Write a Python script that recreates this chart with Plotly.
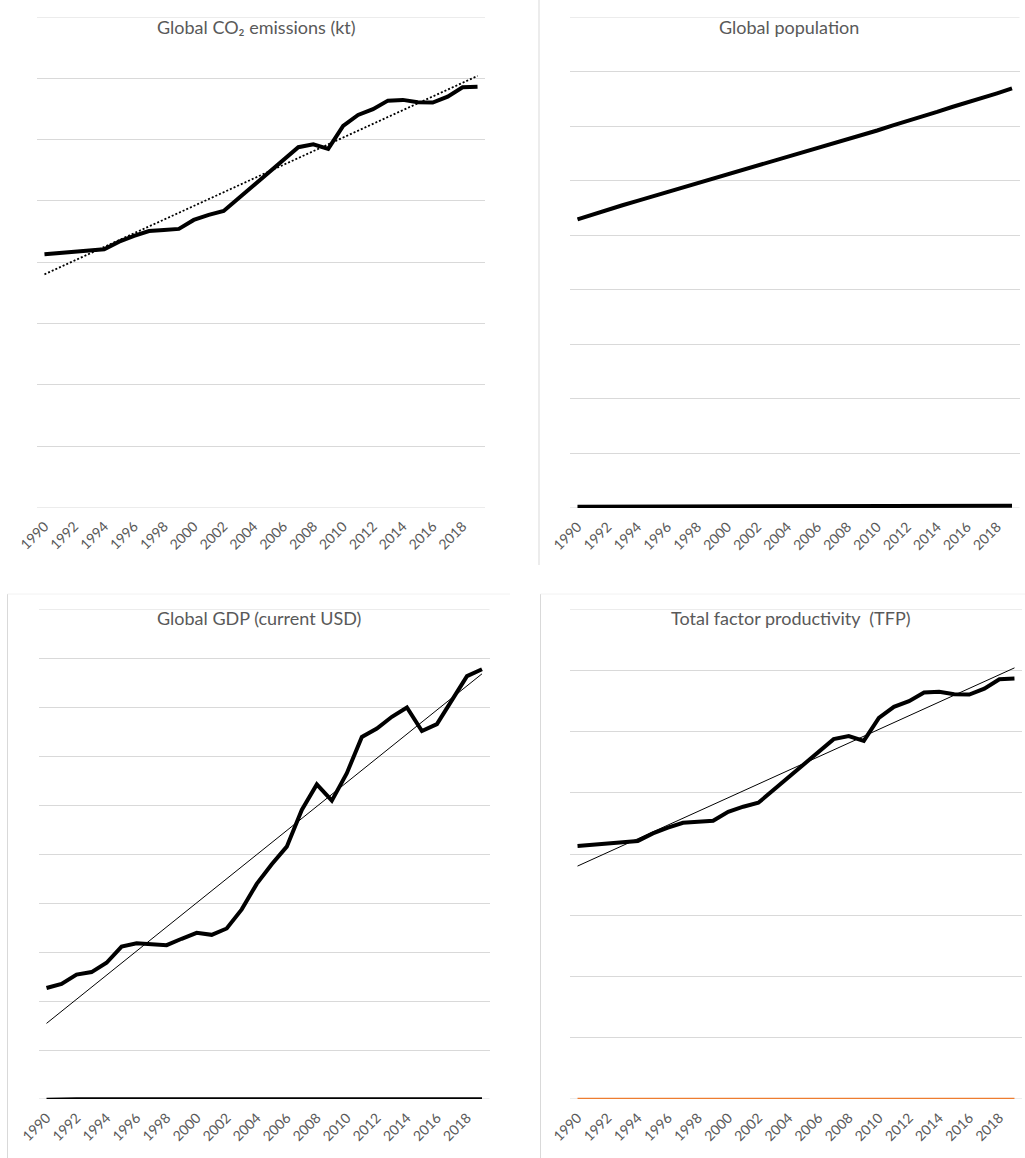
import numpy as np
import plotly.graph_objects as go

# ---------------- data ----------------
years = [str(y) for y in range(1990, 2020)]
tick_years = years[::2]

# Global CO2 emissions (kt)
co2_kt = [20.65e6, 20.73e6, 20.82e6, 20.95e6, 21.06e6, 21.68e6, 22.15e6, 22.55e6, 22.63e6, 22.72e6,
          23.45e6, 23.86e6, 24.18e6, 25.22e6, 26.30e6, 27.39e6, 28.34e6, 29.38e6, 29.62e6, 29.24e6,
          31.12e6, 32.01e6, 32.48e6, 33.18e6, 33.24e6, 33.05e6, 33.02e6, 33.50e6, 34.27e6, 34.32e6]

# Global population
population = [5.29e9, 5.38e9, 5.46e9, 5.55e9, 5.63e9, 5.71e9, 5.80e9, 5.88e9, 5.96e9, 6.04e9,
              6.11e9, 6.19e9, 6.27e9, 6.35e9, 6.43e9, 6.51e9, 6.59e9, 6.67e9, 6.76e9, 6.84e9,
              6.92e9, 7.01e9, 7.09e9, 7.18e9, 7.26e9, 7.35e9, 7.43e9, 7.52e9, 7.60e9, 7.69e9]
population_second = [0.024e9] * 14 + [0.030e9, 0.040e9] + [0.042e9] * 14

# Global GDP (current USD)
gdp_usd = [22.65e12, 23.5e12, 25.4e12, 25.9e12, 27.8e12, 31.1e12, 31.8e12, 31.6e12, 31.4e12, 32.7e12,
           33.9e12, 33.5e12, 34.8e12, 38.7e12, 43.9e12, 47.9e12, 51.5e12, 59.0e12, 64.2e12, 60.9e12,
           66.5e12, 73.9e12, 75.6e12, 78.0e12, 79.9e12, 75.1e12, 76.5e12, 81.4e12, 86.3e12, 87.7e12]
gdp_second = [0.00e12] + [0.08e12] * 29

# Total factor productivity (TFP) panel
tfp_panel_main = list(co2_kt)
tfp_values = [1.0] * 30

# ---------------- helpers ----------------
W, H = 1025, 1158
GRID = "#D9D9D9"
TXT = "#595959"
FONT = "Lato, 'Open Sans', sans-serif"


def trend(vals):
    idx = np.arange(len(vals))
    k, b = np.polyfit(idx, np.asarray(vals, dtype=float), 1)
    return list(k * idx + b)


def xd(a, b):
    return [a / W, b / W]


def yd(top, bottom):
    return [1 - bottom / H, 1 - top / H]


fig = go.Figure()

panels = [
    # (xaxis id, yaxis id, x px range, y px range (top,bottom), y max, dtick)
    ("x", "y", (37, 485), (17, 507.5), 40e6, 5e6),
    ("x2", "y2", (570, 1019.5), (17, 508), 9e9, 1e9),
    ("x3", "y3", (39, 489.5), (609, 1099), 100e12, 10e12),
    ("x4", "y4", (570, 1022), (609, 1099), 40e6, 5e6),
]

layout_axes = {}
shapes = []
for i, (xa, ya, xr, yr, ymax, dt) in enumerate(panels):
    n = "" if i == 0 else str(i + 1)
    layout_axes["xaxis" + n] = dict(
        domain=xd(*xr), anchor=ya, type="category", range=[-0.5, 29.5],
        tickmode="array", tickvals=tick_years, ticktext=tick_years,
        tickangle=-45, showgrid=False, showline=False, zeroline=False, ticks="",
        ticklabelstandoff=7, automargin=False,
        tickfont=dict(family=FONT, size=14, color=TXT), fixedrange=True,
    )
    layout_axes["yaxis" + n] = dict(
        domain=yd(*yr), anchor=xa, range=[0, ymax], dtick=dt, tick0=0,
        showgrid=True, gridcolor=GRID, gridwidth=1, showline=False, zeroline=False,
        showticklabels=False, ticks="", fixedrange=True, automargin=False,
    )
    # gridlines at the two ends of the value range
    for yv in (0, ymax):
        shapes.append(dict(type="line", xref=xa + " domain", yref=ya, x0=0, x1=1,
                           y0=yv, y1=yv, layer="below", line=dict(color=GRID, width=1)))

# Panel 1: CO2
fig.add_trace(go.Scatter(x=years, y=co2_kt, xaxis="x", yaxis="y", mode="lines",
                         line=dict(color="black", width=4), name="CO2"))
fig.add_trace(go.Scatter(x=years, y=trend(co2_kt), xaxis="x", yaxis="y", mode="lines",
                         line=dict(color="black", width=1.8, dash="2px,2px"), name="Trend CO2"))

# Panel 2: population
fig.add_trace(go.Scatter(x=years, y=population, xaxis="x2", yaxis="y2", mode="lines",
                         line=dict(color="black", width=4), name="Population"))
fig.add_trace(go.Scatter(x=years, y=population_second, xaxis="x2", yaxis="y2", mode="lines",
                         line=dict(color="black", width=4), name="Population 2"))

# Panel 3: GDP
fig.add_trace(go.Scatter(x=years, y=gdp_usd, xaxis="x3", yaxis="y3", mode="lines",
                         line=dict(color="black", width=4), name="GDP"))
fig.add_trace(go.Scatter(x=years, y=trend(gdp_usd), xaxis="x3", yaxis="y3", mode="lines",
                         line=dict(color="black", width=1), name="Trend GDP"))
fig.add_trace(go.Scatter(x=years, y=gdp_second, xaxis="x3", yaxis="y3", mode="lines",
                         line=dict(color="black", width=2.5), name="GDP 2"))

# Panel 4: TFP
fig.add_trace(go.Scatter(x=years, y=tfp_panel_main, xaxis="x4", yaxis="y4", mode="lines",
                         line=dict(color="black", width=4), name="Main"))
fig.add_trace(go.Scatter(x=years, y=trend(tfp_panel_main), xaxis="x4", yaxis="y4", mode="lines",
                         line=dict(color="black", width=1), name="Trend"))
fig.add_trace(go.Scatter(x=years, y=tfp_values, xaxis="x4", yaxis="y4", mode="lines",
                         line=dict(color="#ED7D31", width=2.5), name="TFP"))

titles = [
    ("Global CO₂ emissions (kt)", 256, 26.5),
    ("Global population", 789, 26.5),
    ("Global GDP (current USD)", 259, 617.5),
    ("Total factor productivity  (TFP)", 791, 617.5),
]
annotations = []
for text, cx, cy in titles:
    annotations.append(dict(
        text=text, x=cx / W, y=1 - cy / H, xref="paper", yref="paper",
        xanchor="center", yanchor="middle", showarrow=False,
        font=dict(family=FONT, size=18, color=TXT),
    ))


def vline(x, y0, y1, color):
    return dict(type="line", xref="paper", yref="paper", x0=x / W, x1=x / W,
                y0=1 - y0 / H, y1=1 - y1 / H, line=dict(color=color, width=1))


def hline(y, x0, x1, color):
    return dict(type="line", xref="paper", yref="paper", x0=x0 / W, x1=x1 / W,
                y0=1 - y / H, y1=1 - y / H, line=dict(color=color, width=1))


shapes += [
    vline(539, 0, 565, "#D9D9D9"),
    vline(7.5, 594, 1158, "#D9D9D9"),
    hline(594, 7.5, 510, "#F2F2F2"),
    vline(540.5, 594, 1158, "#D9D9D9"),
    hline(594, 540.5, 1025, "#F2F2F2"),
]

fig.update_layout(
    width=W, height=H, margin=dict(l=0, r=0, t=0, b=0),
    paper_bgcolor="white", plot_bgcolor="rgba(0,0,0,0)", showlegend=False,
    annotations=annotations, shapes=shapes, **layout_axes,
)

fig.write_html("out.html")
